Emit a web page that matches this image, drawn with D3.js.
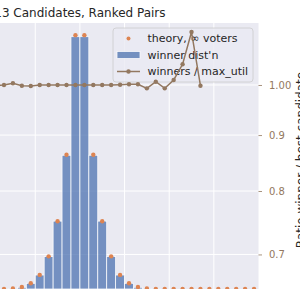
<!DOCTYPE html>
<meta charset="utf-8">
<script src="https://d3js.org/d3.v7.min.js"></script>
<style>
  body { margin: 0; background: #fff; }
  text { font-family: 'DejaVu Sans', sans-serif; }
</style>
<body>
<div id="chart"></div>
<script>

// bin centres (winner position) for the histogram and theory points
var binCenters = [-19.5, -18.5, -17.5, -16.5, -15.5, -14.5, -13.5, -12.5, -11.5, -10.5,
                  -9.5, -8.5, -7.5, -6.5, -5.5, -4.5, -3.5, -2.5, -1.5, -0.5,
                  0.5, 1.5, 2.5, 3.5, 4.5, 5.5, 6.5, 7.5, 8.5, 9.5,
                  10.5, 11.5, 12.5, 13.5, 14.5, 15.5, 16.5, 17.5, 18.5, 19.5];

// winner distribution (measured)
var winnerDist = [0, 0, 0, 0, 0, 0, 0, 0, 0, 0,
                  0, 0.0001, 0.0003, 0.0017, 0.0056, 0.0138, 0.032, 0.067, 0.132, 0.249,
                  0.249, 0.132, 0.067, 0.032, 0.0138, 0.0056, 0.0017, 0.0003, 0.0001, 0,
                  0, 0, 0, 0, 0, 0, 0, 0, 0, 0];

// theory, infinite voters
var theory = [0, 0, 0, 0, 0, 0, 0, 0, 0, 0,
              0.00005, 0.0001, 0.0005, 0.0019, 0.0057, 0.0139, 0.0322, 0.0668, 0.1325, 0.2505,
              0.2505, 0.1325, 0.0668, 0.0322, 0.0139, 0.0057, 0.0019, 0.0005, 0.0001, 0.00005,
              0, 0, 0, 0, 0, 0, 0, 0, 0, 0];

// winners / max_util ratio (right axis, log scale)
var ratioX = [-9.5, -8.5, -7.5, -6.5, -5.5, -4.5, -3.5, -2.5, -1.5, -0.5, 0.5, 1.5,
              2.5, 3.5, 4.5, 5.5, 6.5, 7.5, 8.5, 9.5, 10.5, 11.5, 12.5, 13.5];
var ratioY = [0.999, 1.000, 1.0036, 0.9985, 0.998, 1.000, 1.000, 1.000, 1.000, 1.000, 1.000, 1.000,
              1.000, 1.000, 1.0006, 1.0015, 1.0015, 0.993, 1.007, 0.993, 1.0106, 1.0445, 1.118, 0.9985];

var rightTicks = [0.7, 0.8, 0.9, 1.0];
var rightTickLabels = ["0.7", "0.8", "0.9", "1.00"];

var legendLabels = ["theory, \u221e voters", "winner dist'n", "winners / max_util"];

var blue = "#4C72B0", orange = "#DD8452", brown = "#937860";

// plot area (left side is cut off by the window)
var plotTop = 23, plotBottom = 289, plotRight = 258.5, unit = 8.93;
var plotLeft = plotRight - 40 * unit;

var svg = d3.select("#chart").append("svg")
  .attr("width", 300)
  .attr("height", 300);

var x = d3.scaleLinear().domain([-20, 20]).range([plotLeft, plotRight]);
var y = d3.scaleLinear().domain([0, 0.2625]).range([plotBottom, plotTop]);
var y2 = d3.scaleLog().domain([0.6509, 1.1394]).range([plotBottom, plotTop]);

svg.append("defs").append("clipPath").attr("id", "clip")
  .append("rect").attr("x", plotLeft).attr("y", plotTop)
  .attr("width", plotRight - plotLeft).attr("height", plotBottom - plotTop);

// background
svg.append("rect")
  .attr("x", plotLeft).attr("y", plotTop)
  .attr("width", plotRight - plotLeft).attr("height", plotBottom - plotTop)
  .attr("fill", "#EAEAF2");

// grid
svg.append("g").selectAll("line")
  .data([-15, -10, -5, 0, 5, 10, 15])
  .enter().append("line")
    .attr("x1", function(d) { return x(d); })
    .attr("x2", function(d) { return x(d); })
    .attr("y1", plotTop).attr("y2", plotBottom)
    .attr("stroke", "#fff").attr("stroke-width", 1);

svg.append("g").selectAll("line")
  .data(rightTicks)
  .enter().append("line")
    .attr("x1", plotLeft).attr("x2", plotRight)
    .attr("y1", function(d) { return y2(d); })
    .attr("y2", function(d) { return y2(d); })
    .attr("stroke", "#fff").attr("stroke-width", 1);

// bars
svg.append("g").attr("clip-path", "url(#clip)")
  .selectAll("rect")
  .data(binCenters)
  .enter().append("rect")
    .attr("x", function(d) { return x(d - 0.5); })
    .attr("width", function(d) { return x(d + 0.5) - x(d - 0.5); })
    .attr("y", function(d, i) { return y(winnerDist[i]); })
    .attr("height", function(d, i) { return plotBottom - y(winnerDist[i]); })
    .attr("fill", blue)
    .attr("stroke", "#fff")
    .attr("stroke-width", 0.8)
    .attr("opacity", 0.75);

// theory points
svg.append("g").attr("clip-path", "url(#clip)")
  .selectAll("circle")
  .data(binCenters)
  .enter().append("circle")
    .attr("cx", function(d) { return x(d); })
    .attr("cy", function(d, i) { return y(theory[i]); })
    .attr("r", 2.2)
    .attr("fill", orange);

// legend
var lg = svg.append("g");
lg.append("rect")
  .attr("x", 113).attr("y", 28).attr("width", 140).attr("height", 54).attr("rx", 3)
  .attr("fill", "#EAEAF2").attr("fill-opacity", 0.8)
  .attr("stroke", "#CCCCCC").attr("stroke-width", 0.8);
var rowY = [38.5, 55, 71.5];
lg.append("circle").attr("cx", 128.5).attr("cy", rowY[0]).attr("r", 2).attr("fill", orange);
lg.append("rect").attr("x", 117).attr("y", rowY[1] - 3.5).attr("width", 23).attr("height", 7)
  .attr("fill", blue).attr("stroke", "#fff").attr("stroke-width", 0.8).attr("opacity", 0.75);
lg.append("line").attr("x1", 117).attr("x2", 140).attr("y1", rowY[2]).attr("y2", rowY[2])
  .attr("stroke", brown).attr("stroke-width", 1.5);
lg.append("circle").attr("cx", 128.5).attr("cy", rowY[2]).attr("r", 2.2).attr("fill", brown);
lg.selectAll("text.lab")
  .data(legendLabels)
  .enter().append("text")
    .attr("class", "lab")
    .attr("x", 147.5)
    .attr("y", function(d, i) { return rowY[i]; })
    .attr("dy", "0.35em")
    .attr("font-size", "11px")
    .attr("fill", "#262626")
    .text(function(d) { return d; });

// ratio line on the twin (log) axis
var line = d3.line()
  .x(function(d, i) { return x(ratioX[i]); })
  .y(function(d) { return y2(d); });

var lineG = svg.append("g").attr("clip-path", "url(#clip)");
lineG.append("path")
  .datum(ratioY)
  .attr("d", line)
  .attr("fill", "none")
  .attr("stroke", brown)
  .attr("stroke-width", 1.5);
lineG.selectAll("circle")
  .data(ratioY)
  .enter().append("circle")
    .attr("cx", function(d, i) { return x(ratioX[i]); })
    .attr("cy", function(d) { return y2(d); })
    .attr("r", 2.2)
    .attr("fill", brown);

// right axis
var yAxis = svg.append("g")
  .attr("transform", "translate(" + plotRight + ",0)")
  .call(d3.axisRight(y2).tickValues(rightTicks)
    .tickFormat(function(d, i) { return rightTickLabels[i]; })
    .tickSize(3.5).tickPadding(7));
yAxis.select(".domain").remove();
yAxis.selectAll("line").attr("stroke", brown).attr("stroke-width", 0.8);
yAxis.selectAll("text")
  .attr("fill", brown)
  .attr("font-size", "10px")
  .attr("font-family", "'DejaVu Sans', sans-serif");

// right axis label
svg.append("text")
  .attr("transform", "translate(305,160)rotate(-90)")
  .attr("text-anchor", "middle")
  .attr("font-size", "12px")
  .attr("fill", "#262626")
  .text("Ratio winner / best candidate");

// title
svg.append("text")
  .attr("x", (plotLeft + plotRight) / 2)
  .attr("y", 17)
  .attr("text-anchor", "middle")
  .attr("font-size", "12px")
  .attr("fill", "#262626")
  .text("13 Candidates, Ranked Pairs");

</script>
</body>
